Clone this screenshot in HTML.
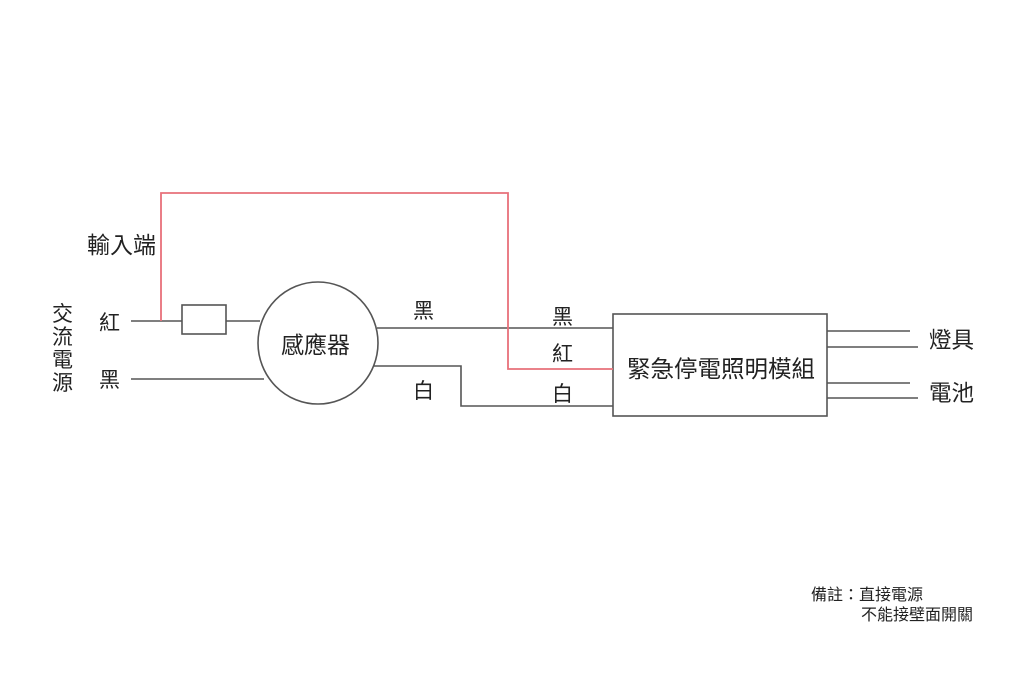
<!DOCTYPE html>
<html><head><meta charset="utf-8"><style>
html,body{margin:0;padding:0;background:#fff;}
svg{display:block;}
text{font-family:"Liberation Sans","Noto Sans CJK TC",sans-serif;fill:#222;}
</style></head><body>
<svg width="1024" height="683" viewBox="0 0 1024 683" xmlns="http://www.w3.org/2000/svg">
<g stroke="#555" stroke-width="1.6" fill="none">
<line x1="131" y1="321" x2="182" y2="321"/>
<rect x="182" y="305" width="44" height="29" fill="#fff"/>
<line x1="226" y1="321" x2="260" y2="321"/>
<line x1="131" y1="379" x2="264" y2="379"/>
<ellipse cx="318" cy="343" rx="60" ry="61" fill="#fff"/>
<line x1="377" y1="328" x2="613" y2="328"/>
<polyline points="374,366 461,366 461,406 613,406"/>
<rect x="613" y="314" width="214" height="102" fill="#fff"/>
<line x1="827" y1="331" x2="910" y2="331"/>
<line x1="827" y1="347" x2="918" y2="347"/>
<line x1="827" y1="383" x2="910" y2="383"/>
<line x1="827" y1="398" x2="918" y2="398"/>
</g>
<polyline points="161,321 161,193 508,193 508,369 613,369" stroke="#e8707a" stroke-width="1.8" fill="none"/>
<g font-size="21">
<text x="52" y="321">交</text>
<text x="52" y="344">流</text>
<text x="52" y="367">電</text>
<text x="52" y="390">源</text>
<text x="99" y="330">紅</text>
<text x="99" y="387">黑</text>
<text x="413" y="318">黑</text>
<text x="413" y="398">白</text>
<text x="552" y="324">黑</text>
<text x="552" y="361">紅</text>
<text x="552" y="401">白</text>
</g>
<text x="87" y="253" font-size="23">輸入端</text>
<text x="281" y="353" font-size="23">感應器</text>
<text x="929" y="348" font-size="22.5">燈具</text>
<text x="929" y="401" font-size="22.5">電池</text>
<text x="627" y="377" font-size="23.5">緊急停電照明模組</text>
<text x="811" y="600" font-size="16">備註：直接電源</text>
<text x="861" y="620" font-size="16">不能接壁面開關</text>
</svg>
</body></html>
